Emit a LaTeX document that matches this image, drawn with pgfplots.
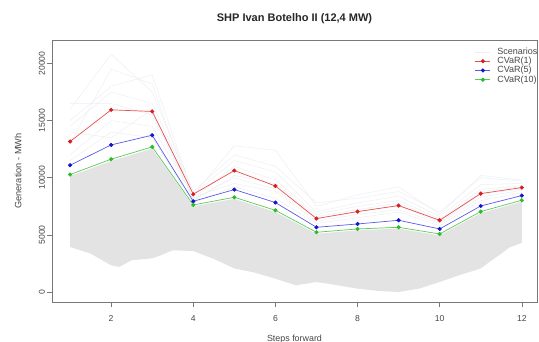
\documentclass[border=0pt]{standalone}
\usepackage{pgfplots}
\pgfplotsset{compat=1.18}
\usepackage{fontspec}
\setmainfont{Liberation Sans}
\definecolor{axgray}{RGB}{120,120,120}
\definecolor{txtgray}{RGB}{70,70,70}
\definecolor{bandgray}{RGB}{227,227,227}
\definecolor{scen}{RGB}{236,238,242}
\definecolor{rline}{RGB}{232,80,80}
\definecolor{rmark}{RGB}{215,30,30}
\definecolor{bline}{RGB}{90,90,230}
\definecolor{bmark}{RGB}{20,20,205}
\definecolor{gline}{RGB}{90,200,90}
\definecolor{gmark}{RGB}{40,190,40}
\begin{document}
\begin{tikzpicture}[x=1pt,y=1pt]
\path[use as bounding box] (0,0) rectangle (539,342);
\begin{axis}[
  at={(52pt,40pt)}, anchor=south west,
  scale only axis, width=485pt, height=262pt,
  xmin=0.56, xmax=12.37, ymin=-870, ymax=22050,
  xtick={2,4,6,8,10,12},
  ytick={0,5000,10000,15000,20000},
  scaled y ticks=false,
  /pgf/number format/assume math mode=true,
  /pgf/number format/set thousands separator={},
  tick align=outside, major tick length=5pt,
  xtick pos=bottom, ytick pos=left,
  axis line style={axgray, line width=0.6pt},
  tick style={axgray, line width=0.6pt},
  ticklabel style={font=\fontsize{8.6}{10}\selectfont, text=txtgray},
  xticklabel style={inner sep=0pt, anchor=center, yshift=-12pt},
  yticklabel style={inner sep=0pt, xshift=-5pt, rotate=90, anchor=center},
  title={SHP Ivan Botelho II (12,4 MW)},
  title style={at={(axis description cs:0.5,1.060)}, anchor=center, font=\bfseries\fontsize{11}{13}\selectfont, text=black!85},
  xlabel={Steps forward},
  xlabel style={at={(axis description cs:0.5,-0.141)}, anchor=center, font=\fontsize{8.9}{10}\selectfont, text=txtgray},
  ylabel={Generation - MWh},
  ylabel style={at={(axis description cs:-0.070,0.5)}, anchor=center, font=\fontsize{9.2}{10}\selectfont, text=txtgray},
  legend style={at={(axis description cs:1,1)}, anchor=north east, yshift=-7pt, xshift=1pt,
    draw=none, fill=none, inner sep=0pt, column sep=6pt,
    font=\fontsize{9}{10}\selectfont, text=txtgray,
    nodes={inner sep=0.5pt, text height=6.5pt, text depth=1.8pt, anchor=west}},
  legend cell align=left,
  legend image code/.code={\draw[mark repeat=2,mark phase=2] plot coordinates {(0pt,0pt)(7.5pt,0pt)(15pt,0pt)};},
]
% dense scenario band
\addplot[draw=none, fill=bandgray, forget plot] coordinates {
 (1,10150) (2,11450) (3,12550) (4,7500) (5,8150) (6,7000) (7,5100) (8,5400) (9,5550) (10,4950) (11,6900) (12,7900)
 (12,4300) (11.7,3900) (11.5,3360) (11.2,2600) (11,2060) (10.5,1500) (10,880) (9.5,300) (9,0) (8.5,100) (8,300) (7.5,600) (7,880) (6.5,590) (6,1170) (5.5,1700) (5,2060) (4.5,2900) (4,3590) (3.5,3650) (3.2,3200) (3,2950) (2.5,2780) (2.2,2200) (2,2340) (1.5,3360) (1,3940)
} -- cycle;
% faint individual scenarios above the band
\addplot[scen, line width=0.5pt] coordinates {(1,16000) (2,20800) (3,17500) (4,8800) (5,12000) (6,11000) (7,7800) (8,8200) (9,8800) (10,7000) (11,10000) (12,9700)};
\addlegendentry{Scenarios}
\addplot[scen, line width=0.5pt, forget plot] coordinates {(1,15000) (2,18000) (3,19000) (4,8500) (5,12800) (6,12400) (7,7500) (8,8500) (9,9200) (10,6800) (11,10200) (12,9800)};
\addplot[scen, line width=0.5pt, forget plot] coordinates {(1,14500) (2,17500) (3,16500) (4,8600) (5,11500) (6,10500) (7,7000) (8,7800) (9,8400) (10,6600) (11,9400) (12,9500)};
\addplot[scen, line width=0.5pt, forget plot] coordinates {(1,16500) (2,16500) (3,15500) (4,8200) (5,11000) (6,9800) (7,6800) (8,7500) (9,8000) (10,6400) (11,9000) (12,9300)};
\addplot[scen, line width=0.5pt, forget plot] coordinates {(1,13000) (2,19500) (3,18200) (4,8000) (5,10200) (6,9500) (7,6600) (8,7200) (9,7800) (10,6200) (11,8800) (12,9200)};
\addplot[scen, line width=0.5pt, forget plot] coordinates {(1,12000) (2,15000) (3,14500) (4,8300) (5,9500) (6,8800) (7,6200) (8,6800) (9,7200) (10,6000) (11,8300) (12,8900)};
\addplot[scen, line width=0.5pt, forget plot] coordinates {(1,11500) (2,14000) (3,13500) (4,7800) (5,9200) (6,8200) (7,6000) (8,6500) (9,7000) (10,5800) (11,8000) (12,8700)};
\addplot[scen, line width=0.5pt, forget plot] coordinates {(1,14000) (2,13500) (3,16000) (4,8100) (5,10000) (6,9000) (7,6400) (8,7000) (9,7600) (10,6100) (11,8600) (12,9000)};
% CVaR series
\addplot[rline, line width=0.7pt, mark=*, mark size=1.7pt, mark options={fill=rmark, draw=rmark}] coordinates {
 (1,13170) (2,15940) (3,15800) (4,8555) (5,10630) (6,9280) (7,6430) (8,7040) (9,7565) (10,6280) (11,8615) (12,9140)};
\addlegendentry{CVaR(1)}
\addplot[bline, line width=0.7pt, mark=*, mark size=1.7pt, mark options={fill=bmark, draw=bmark}] coordinates {
 (1,11095) (2,12870) (3,13720) (4,7940) (5,8965) (6,7830) (7,5665) (8,5955) (9,6280) (10,5520) (11,7530) (12,8440)};
\addlegendentry{CVaR(5)}
\addplot[gline, line width=0.7pt, mark=*, mark size=1.7pt, mark options={fill=gmark, draw=gmark}] coordinates {
 (1,10280) (2,11620) (3,12700) (4,7620) (5,8290) (6,7150) (7,5230) (8,5520) (9,5665) (10,5080) (11,7040) (12,8030)};
\addlegendentry{CVaR(10)}
\end{axis}
\end{tikzpicture}
\end{document}
